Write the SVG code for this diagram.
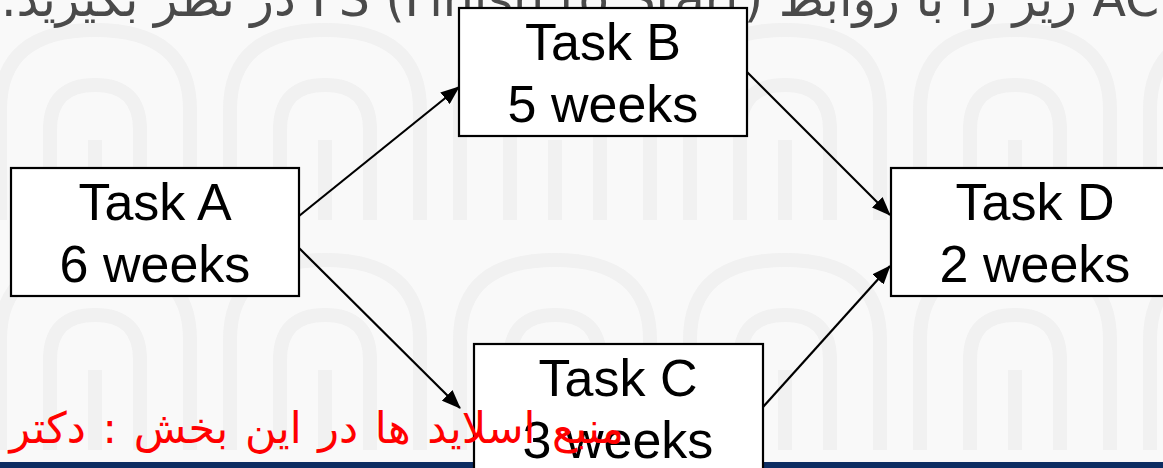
<svg xmlns="http://www.w3.org/2000/svg" width="1163" height="468" viewBox="0 0 1163 468">
  <defs>
    <style>
      .box { fill: #ffffff; stroke: #000000; stroke-width: 2.2; }
      .lbl { font-family: "Liberation Sans", Arial, sans-serif; font-size: 52px; fill: #000000; text-anchor: middle; }
      .edge { stroke: #000000; stroke-width: 2.2; fill: none; marker-end: url(#head); }
      .bgmark { fill: none; stroke: #f1f1f1; stroke-width: 14; }
    </style>
    <marker id="head" markerUnits="userSpaceOnUse" markerWidth="19" markerHeight="15" refX="18" refY="7.5" orient="auto">
      <path d="M0,0 L19,7.5 L0,15 z" fill="#000000"/>
    </marker>
    <pattern id="tile" patternUnits="userSpaceOnUse" width="230" height="230" x="-20" y="-10">
      <path class="bgmark" d="M20,230 V120 Q20,40 115,40 Q210,40 210,120 V230"/>
      <path class="bgmark" d="M70,230 V140 Q70,95 115,95 Q160,95 160,140 V230"/>
      <path class="bgmark" d="M115,150 V230"/>
    </pattern>
  </defs>

  <!-- slide background -->
  <rect x="0" y="0" width="1163" height="468" fill="#f9f9f9"/>
  <rect x="0" y="0" width="1163" height="468" fill="url(#tile)"/>

  <!-- slide title (clipped by top edge) -->
  <text x="1284" y="16" direction="rtl" font-family="'DejaVu Sans', sans-serif" font-size="49" fill="#4a4a4a">شبکه AC زیر را با روابط FS (Finish to Start) در نظر بگیرید.</text>

  <!-- footer bar -->
  <rect x="0" y="462" width="1163" height="6" fill="#0d2d62"/>

  <g id="connectors">
    <line class="edge" x1="299" y1="216" x2="459" y2="87"/>
    <line class="edge" x1="299" y1="248" x2="460" y2="408"/>
    <line class="edge" x1="747" y1="72" x2="890" y2="215"/>
    <line class="edge" x1="763" y1="407" x2="890" y2="266"/>
  </g>

  <g id="task-a">
    <rect class="box" x="11" y="168" width="288" height="128"/>
    <text class="lbl" x="155" y="220">Task A</text>
    <text class="lbl" x="155" y="282">6 weeks</text>
  </g>

  <g id="task-b">
    <rect class="box" x="459" y="8" width="288" height="128"/>
    <text class="lbl" x="603" y="60">Task B</text>
    <text class="lbl" x="603" y="122">5 weeks</text>
  </g>

  <g id="task-c">
    <rect class="box" x="474" y="344" width="289" height="140"/>
    <text class="lbl" x="618" y="396">Task C</text>
    <text class="lbl" x="618" y="458">3 weeks</text>
  </g>

  <g id="task-d">
    <rect class="box" x="891" y="168" width="288" height="128"/>
    <text class="lbl" x="1035" y="220">Task D</text>
    <text class="lbl" x="1035" y="282">2 weeks</text>
  </g>

  <!-- footer credit -->
  <text x="624" y="443" direction="rtl" font-family="'DejaVu Sans', sans-serif" font-size="43" fill="#ff0000" word-spacing="3">منبع اسلاید ها در این بخش :  دکتر</text>
</svg>
